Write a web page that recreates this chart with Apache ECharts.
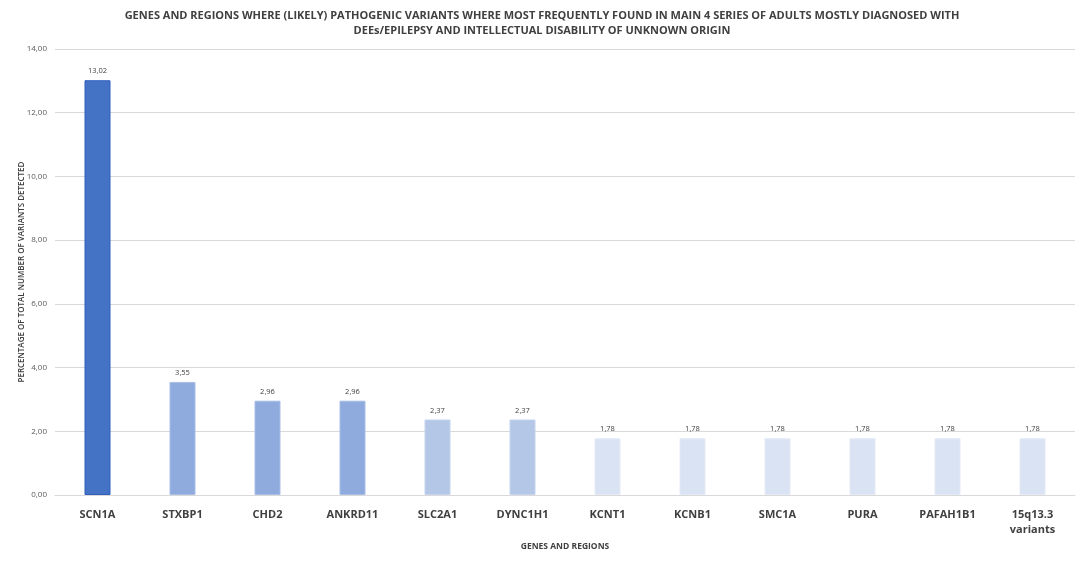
<!DOCTYPE html>
<html><head><meta charset="utf-8">
<script src="https://cdn.jsdelivr.net/npm/echarts@6/dist/echarts.min.js"></script>
<style>html,body{margin:0;padding:0;background:#fff}#c{width:1084px;height:564px}</style>
</head><body><div id="c"></div>
<script>
const categories = ['SCN1A','STXBP1','CHD2','ANKRD11','SLC2A1','DYNC1H1','KCNT1','KCNB1','SMC1A','PURA','PAFAH1B1','15q13.3\nvariants'];
const values = [13.02,3.55,2.96,2.96,2.37,2.37,1.78,1.78,1.78,1.78,1.78,1.78];
const barColors = ['#4472C4','#8FAADC','#8FAADC','#8FAADC','#B4C7E7','#B4C7E7','#DAE3F3','#DAE3F3','#DAE3F3','#DAE3F3','#DAE3F3','#DAE3F3'];
const borderColors = ['#2F5FBF','#A9BEE6','#A9BEE6','#A9BEE6','#C6D4EE','#C6D4EE','#E4EBF7','#E4EBF7','#E4EBF7','#E4EBF7','#E4EBF7','#E4EBF7'];
const titleText = 'GENES AND REGIONS WHERE (LIKELY) PATHOGENIC VARIANTS WHERE MOST FREQUENTLY FOUND IN MAIN 4 SERIES OF ADULTS MOSTLY DIAGNOSED WITH\nDEEs/EPILEPSY AND INTELLECTUAL DISABILITY OF UNKNOWN ORIGIN';
const yName = 'PERCENTAGE OF TOTAL NUMBER OF VARIANTS DETECTED';
const xName = 'GENES AND REGIONS';
const fmt = v => v.toFixed(2).replace('.', ',');
const chart = echarts.init(document.getElementById('c'));
chart.setOption({
  animation: false,
  title: {
    text: titleText, left: 'center', top: 3,
    textStyle: { fontFamily: 'Open Sans', fontWeight: 'bold', fontSize: 11, color: '#404040', lineHeight: 15 }
  },
  grid: { left: 55, right: 9, top: 49, bottom: 69 },
  xAxis: {
    type: 'category', data: categories,
    name: xName, nameLocation: 'middle', nameGap: 46,
    nameTextStyle: { fontFamily: 'Open Sans', fontWeight: 'bold', fontSize: 8.5, color: '#404040' },
    axisLine: { lineStyle: { color: '#D9D9D9' } },
    axisTick: { show: false },
    axisLabel: { interval: 0, margin: 12, fontFamily: 'Open Sans', fontWeight: 'bold', fontSize: 11, color: '#404040', lineHeight: 15 }
  },
  yAxis: {
    type: 'value', min: 0, max: 14, interval: 2,
    name: yName, nameLocation: 'middle', nameGap: 29, nameRotate: 90, nameMoveOverlap: false,
    nameTextStyle: { fontFamily: 'Open Sans', fontWeight: 600, fontSize: 8, color: '#404040' },
    axisLine: { show: false }, axisTick: { show: false },
    axisLabel: { formatter: v => fmt(v), fontFamily: 'Open Sans', fontSize: 8, color: '#595959', margin: 8 },
    splitLine: { lineStyle: { color: '#D9D9D9' } }
  },
  series: [{
    type: 'bar', barWidth: 26,
    data: values.map((v, i) => ({ value: v, itemStyle: { color: barColors[i], borderColor: borderColors[i], borderWidth: 1 } })),
    label: { show: true, position: 'top', distance: 5, formatter: p => fmt(p.value), fontFamily: 'Open Sans', fontSize: 7.5, color: '#404040' }
  }]
});
</script></body></html>
